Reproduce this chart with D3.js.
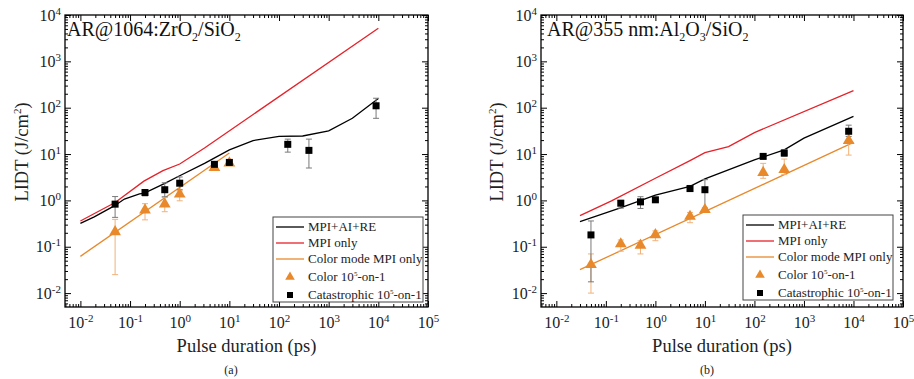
<!DOCTYPE html>
<html>
<head>
<meta charset="utf-8">
<script src="https://cdn.jsdelivr.net/npm/d3@7"></script>
<style>
  body { margin: 0; background: #fff; }
  svg, svg text { font-family: "Liberation Serif", "Times New Roman", Times, serif !important; }
  .frame { fill: none; stroke: #000; stroke-width: 1.3; }
  .axis path { display: none; }
  .axis line { stroke: #000; stroke-width: 1; }
  .axis text { font-size: 16px; fill: #222; }
</style>
</head>
<body>
<svg id="chart" width="914" height="379" font-family="Liberation Serif, serif"></svg>
<script>
// decade exponents for tick labels
const xTickExps = [-2, -1, 0, 1, 2, 3, 4, 5];
const yTickExps = [-2, -1, 0, 1, 2, 3, 4];

const legendLabels = ["MPI+AI+RE", "MPI only", "Color mode MPI only", "Color 10|5|-on-1", "Catastrophic 10|5|-on-1"];

// panel (a) AR@1064
const aModelX = [0.01, 0.019, 0.048, 0.077, 0.155, 0.19, 0.49, 1, 3.16, 10, 30, 100, 300, 1000, 3000, 10000];
const aModelY = [0.32, 0.44, 0.76, 1.07, 1.38, 1.42, 2.3, 3.4, 6.3, 12.3, 19.5, 24, 24.5, 31.6, 59, 158];
const aMpiX = [0.01, 0.05, 0.19, 0.46, 1, 3.16, 10000];
const aMpiY = [0.36, 0.9, 2.6, 4.4, 6.1, 13.5, 5200];
const aColorLineX = [0.01, 10];
const aColorLineY = [0.062, 10.5];
const aCatX = [0.05, 0.2, 0.5, 1, 5, 10, 150, 400, 9000];
const aCatY = [0.83, 1.48, 1.7, 2.35, 6.0, 6.6, 16.2, 12, 110];
const aCatLo = [0.43, 1.25, 1.2, 1.7, 5.1, 6.0, 11, 5, 59];
const aCatHi = [1.21, 1.7, 2.4, 3.2, 6.8, 7.2, 21, 21, 160];
const aColX = [0.05, 0.2, 0.5, 1, 5, 10];
const aColY = [0.21, 0.62, 0.83, 1.36, 5.1, 6.4];
const aColLo = [0.025, 0.38, 0.57, 0.98, 4.5, 5.9];
const aColHi = [0.39, 0.85, 1.15, 1.6, 5.5, 6.9];

// panel (b) AR@355
const bModelX = [0.03, 0.19, 1, 5, 10, 100, 400, 1000, 10000];
const bModelY = [0.35, 0.68, 1.3, 2.0, 2.9, 7.5, 12.3, 22, 65];
const bMpiX = [0.03, 0.13, 1, 5, 10, 30, 100, 10000];
const bMpiY = [0.47, 0.98, 3.0, 7.2, 10.7, 14.5, 29, 234];
const bColorLineX = [0.03, 10000];
const bColorLineY = [0.032, 17.8];
const bCatX = [0.05, 0.2, 0.5, 1, 5, 10, 150, 400, 8000];
const bCatY = [0.18, 0.87, 0.93, 1.03, 1.8, 1.7, 8.9, 10.5, 31];
const bCatLo = [0.0175, 0.68, 0.67, 0.95, 1.6, 0.63, 8.0, 9, 24];
const bCatHi = [0.36, 1.0, 1.2, 1.12, 2.1, 2.8, 9.8, 12.5, 42];
const bColX = [0.05, 0.2, 0.5, 1, 5, 10, 150, 400, 8000];
const bColY = [0.041, 0.115, 0.107, 0.18, 0.45, 0.63, 4.0, 4.6, 19.5];
const bColLo = [0.01, 0.08, 0.07, 0.135, 0.33, 0.55, 3.0, 3.6, 9.5];
const bColHi = [0.07, 0.14, 0.134, 0.22, 0.55, 0.7, 6.3, 7.8, 31];

const RED = "#e62129", ORANGE = "#e8892b";
const FONT = "Liberation Serif, Times New Roman, serif";

const svg = d3.select("#chart");

const zip = (xs, ys) => xs.map((x, i) => ({x: x, y: ys[i]}));

function supText(sel, parts, supSize, shift) {
  // parts: "base|sup|rest"
  const p = parts.split("|");
  sel.attr("font-family", FONT);
  sel.append("tspan").text(p[0]);
  if (p.length > 1) {
    sel.append("tspan").attr("font-size", supSize).attr("dy", -shift).text(p[1]);
    if (p[2]) sel.append("tspan").attr("dy", shift).text(p[2]);
  }
}

function drawPanel(cfg) {
  const left = cfg.left, right = cfg.right, top = 15, bottom = 307;
  const w = right - left, h = bottom - top;

  const x = d3.scaleLog().domain([Math.pow(10, -2.31), 1e5]).range([0, w]);
  const y = d3.scaleLog().domain([Math.pow(10, -2.3), 1e4]).range([h, 0]);

  const g = svg.append("g").attr("transform", `translate(${left},${top})`);

  const minorX = [], minorY = [];
  for (let n = -3; n <= 5; n++) {
    for (let k = 2; k <= 9; k++) {
      const v = k * Math.pow(10, n);
      if (v > x.domain()[0] && v < x.domain()[1]) minorX.push(v);
      if (v > y.domain()[0] && v < y.domain()[1]) minorY.push(v);
    }
  }
  const majX = xTickExps.map(e => Math.pow(10, e));
  const majY = yTickExps.map(e => Math.pow(10, e));

  // minor ticks on all four sides
  g.append("g").attr("class", "axis").attr("transform", `translate(0,${h})`)
    .call(d3.axisBottom(x).tickValues(minorX).tickSize(-3).tickFormat(""));
  g.append("g").attr("class", "axis")
    .call(d3.axisTop(x).tickValues(minorX).tickSize(-3).tickFormat(""));
  g.append("g").attr("class", "axis")
    .call(d3.axisLeft(y).tickValues(minorY).tickSize(-3).tickFormat(""));
  g.append("g").attr("class", "axis").attr("transform", `translate(${w},0)`)
    .call(d3.axisRight(y).tickValues(minorY).tickSize(-3).tickFormat(""));

  // major ticks
  const xAxisG = g.append("g").attr("class", "axis").attr("transform", `translate(0,${h})`)
    .call(d3.axisBottom(x).tickValues(majX).tickSize(-6).tickPadding(10).tickFormat(""));
  g.append("g").attr("class", "axis")
    .call(d3.axisTop(x).tickValues(majX).tickSize(-6).tickFormat(""));
  const yAxisG = g.append("g").attr("class", "axis")
    .call(d3.axisLeft(y).tickValues(majY).tickSize(-6).tickPadding(4).tickFormat(""));
  g.append("g").attr("class", "axis").attr("transform", `translate(${w},0)`)
    .call(d3.axisRight(y).tickValues(majY).tickSize(-6).tickFormat(""));

  xAxisG.attr("font-family", FONT);
  yAxisG.attr("font-family", FONT);
  xAxisG.selectAll(".tick text").each(function(d) {
    supText(d3.select(this), "10|" + Math.round(Math.log10(d)), 11, 6);
  });
  yAxisG.selectAll(".tick text").each(function(d) {
    supText(d3.select(this), "10|" + Math.round(Math.log10(d)), 11, 6);
  });

  g.append("rect").attr("class", "frame").attr("width", w).attr("height", h);

  const line = d3.line().x(d => x(d.x)).y(d => y(d.y));

  g.append("path").datum(zip(cfg.colorLineX, cfg.colorLineY))
    .attr("d", line).attr("fill", "none").attr("stroke", ORANGE).attr("stroke-width", 1.3);
  g.append("path").datum(zip(cfg.mpiX, cfg.mpiY))
    .attr("d", line).attr("fill", "none").attr("stroke", RED).attr("stroke-width", 1.3);
  g.append("path").datum(zip(cfg.modelX, cfg.modelY))
    .attr("d", line).attr("fill", "none").attr("stroke", "#000").attr("stroke-width", 1.3);

  function errorBars(xs, lo, hi, color) {
    const d = xs.map((v, i) => ({x: v, lo: lo[i], hi: hi[i]}));
    const eb = g.append("g").attr("stroke", color).attr("stroke-width", 1);
    eb.selectAll(".v").data(d).join("line")
      .attr("x1", e => x(e.x)).attr("x2", e => x(e.x))
      .attr("y1", e => y(e.lo)).attr("y2", e => y(e.hi));
    eb.selectAll(".lo").data(d).join("line")
      .attr("x1", e => x(e.x) - 3).attr("x2", e => x(e.x) + 3)
      .attr("y1", e => y(e.lo)).attr("y2", e => y(e.lo));
    eb.selectAll(".hi").data(d).join("line")
      .attr("x1", e => x(e.x) - 3).attr("x2", e => x(e.x) + 3)
      .attr("y1", e => y(e.hi)).attr("y2", e => y(e.hi));
  }

  errorBars(cfg.colX, cfg.colLo, cfg.colHi, "#f0b27a");
  errorBars(cfg.catX, cfg.catLo, cfg.catHi, "#7a7a7a");

  const tri = d3.symbol().type(d3.symbolTriangle).size(60);
  g.append("g").selectAll("path").data(zip(cfg.colX, cfg.colY)).join("path")
    .attr("d", tri).attr("fill", ORANGE)
    .attr("transform", d => `translate(${x(d.x)},${y(d.y)})`);
  g.append("g").selectAll("rect").data(zip(cfg.catX, cfg.catY)).join("rect")
    .attr("x", d => x(d.x) - 3.5).attr("y", d => y(d.y) - 3.5)
    .attr("width", 7).attr("height", 7).attr("fill", "#000");

  // panel annotation
  const ann = g.append("text").attr("x", cfg.annX).attr("y", 21).attr("font-size", 20)
    .attr("font-family", FONT).attr("fill", "#111");
  cfg.annParts.forEach(p => {
    if (p.sub) {
      ann.append("tspan").attr("font-size", 12).attr("dy", 5).text(p.t);
    } else {
      ann.append("tspan").attr("dy", p.back ? -5 : 0).text(p.t);
    }
  });

  // legend
  const lg = g.append("g").attr("transform", `translate(${cfg.legX - left},${cfg.legY - top})`);
  lg.append("rect").attr("width", 150).attr("height", 85)
    .attr("fill", "#fff").attr("stroke", "#444").attr("stroke-width", 1);
  const rowY = [10, 26, 42, 60, 78];
  const swatch = [
    {type: "line", color: "#000"},
    {type: "line", color: RED},
    {type: "line", color: ORANGE},
    {type: "tri", color: ORANGE},
    {type: "sq", color: "#000"}
  ];
  legendLabels.forEach((lab, i) => {
    const ry = rowY[i];
    const s = swatch[i];
    if (s.type === "line") {
      lg.append("line").attr("x1", 3).attr("x2", 31).attr("y1", ry).attr("y2", ry)
        .attr("stroke", s.color).attr("stroke-width", 1.3);
    } else if (s.type === "tri") {
      lg.append("path").attr("d", d3.symbol().type(d3.symbolTriangle).size(40))
        .attr("fill", s.color).attr("transform", `translate(17,${ry})`);
    } else {
      lg.append("rect").attr("x", 14).attr("y", ry - 3).attr("width", 6).attr("height", 6).attr("fill", s.color);
    }
    const t = lg.append("text").attr("x", 35).attr("y", ry + 4).attr("font-size", 13).attr("fill", "#222");
    supText(t, lab, 7, 5);
  });

  // axis titles
  svg.append("text").attr("x", left + w / 2).attr("y", 352).attr("text-anchor", "middle")
    .attr("font-family", FONT).attr("font-size", 18.5).attr("fill", "#222").text("Pulse duration (ps)");
  const yt = svg.append("text")
    .attr("transform", `translate(${cfg.yTitleX},152) rotate(-90)`)
    .attr("text-anchor", "middle").attr("font-size", 18.5).attr("fill", "#222");
  supText(yt, "LIDT (J/cm|2|)", 11, 7);
  svg.append("text").attr("x", cfg.capX).attr("y", 374).attr("text-anchor", "middle")
    .attr("font-family", FONT).attr("font-size", 12).attr("fill", "#222").text(cfg.caption);
}

drawPanel({
  left: 65, right: 428,
  modelX: aModelX, modelY: aModelY, mpiX: aMpiX, mpiY: aMpiY,
  colorLineX: aColorLineX, colorLineY: aColorLineY,
  catX: aCatX, catY: aCatY, catLo: aCatLo, catHi: aCatHi,
  colX: aColX, colY: aColY, colLo: aColLo, colHi: aColHi,
  annX: 2,
  annParts: [{t: "AR@1064:ZrO"}, {t: "2", sub: true}, {t: "/SiO", back: true}, {t: "2", sub: true}],
  legX: 273, legY: 217, yTitleX: 28, capX: 231, caption: "(a)"
});

drawPanel({
  left: 541, right: 903,
  modelX: bModelX, modelY: bModelY, mpiX: bMpiX, mpiY: bMpiY,
  colorLineX: bColorLineX, colorLineY: bColorLineY,
  catX: bCatX, catY: bCatY, catLo: bCatLo, catHi: bCatHi,
  colX: bColX, colY: bColY, colLo: bColLo, colHi: bColHi,
  annX: 6,
  annParts: [{t: "AR@355 nm:Al"}, {t: "2", sub: true}, {t: "O", back: true}, {t: "3", sub: true}, {t: "/SiO", back: true}, {t: "2", sub: true}],
  legX: 743, legY: 215, yTitleX: 503, capX: 707, caption: "(b)"
});
</script>
</body>
</html>
